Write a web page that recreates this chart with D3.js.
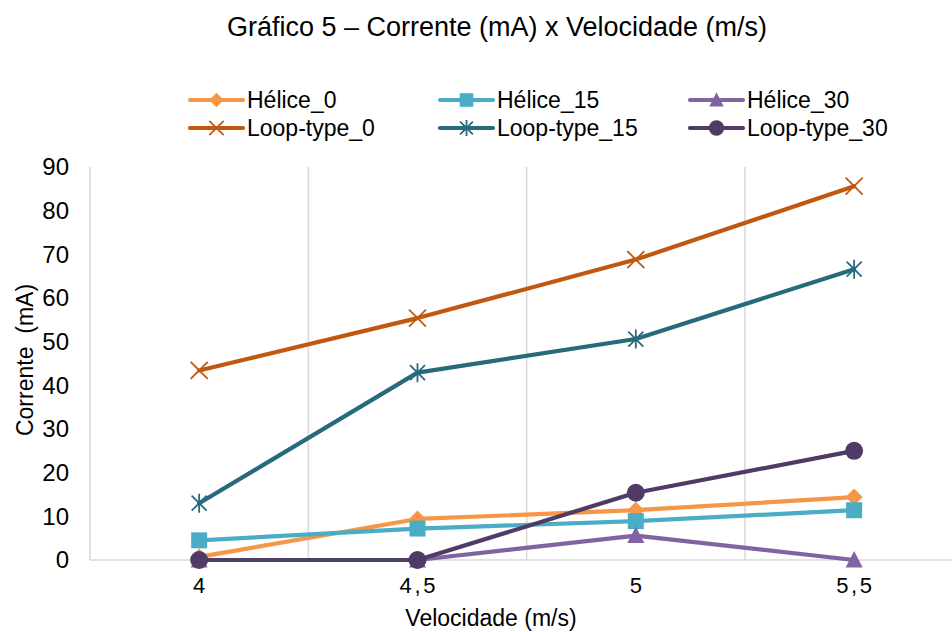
<!DOCTYPE html>
<html><head><meta charset="utf-8">
<script src="https://cdn.jsdelivr.net/npm/d3@7"></script>
<style>body{margin:0;background:#fff}svg{display:block;font-family:"Liberation Sans",Arial,sans-serif}</style>
</head><body><svg id="c" width="952" height="632"></svg>
<script>
const categories = ["4", "4 , 5", "5", "5 , 5"];
const seriesNames = ["Hélice_0", "Hélice_15", "Hélice_30", "Loop-type_0", "Loop-type_15", "Loop-type_30"];
const helice0 = [0.7, 9.4, 11.4, 14.4];
const helice15 = [4.5, 7.2, 8.9, 11.4];
const helice30 = [0, 0, 5.6, 0];
const loop0 = [43.4, 55.4, 68.8, 85.6];
const loop15 = [13.0, 42.9, 50.6, 66.6];
const loop30 = [0, 0, 15.4, 25.0];
const yTicks = [0, 10, 20, 30, 40, 50, 60, 70, 80, 90];
const colors = ["#F79646", "#4BACC6", "#8064A2", "#C0590F", "#276A7C", "#4F3B65"];
const symbols = ["diamond", "square", "triangle", "x", "star", "circle"];
const allValues = [helice0, helice15, helice30, loop0, loop15, loop30];

(function(){
const svg = d3.select("#c");
const pLeft = 90, pRight = 963.3, pTop = 167, pBottom = 560;
const x = d3.scaleBand().domain(categories).range([pLeft, pRight]).paddingInner(0).paddingOuter(0);
const y = d3.scaleLinear().domain([0, 90]).range([pBottom, pTop]);
const cx = d => x(d) + x.bandwidth() / 2;

svg.append("text").attr("x", 497).attr("y", 36).attr("text-anchor", "middle")
  .attr("font-size", 27).attr("fill", "#000").text("Gráfico 5 – Corrente (mA) x Velocidade (m/s)");

const g = svg.append("g");
categories.slice(1).forEach(c => {
  g.append("line").attr("x1", x(c)).attr("x2", x(c)).attr("y1", pTop).attr("y2", pBottom)
    .attr("stroke", "#d9d9d9").attr("stroke-width", 1.5);
});
g.append("line").attr("x1", pLeft).attr("x2", pLeft).attr("y1", pTop).attr("y2", pBottom)
  .attr("stroke", "#d9d9d9").attr("stroke-width", 1.5);
g.append("line").attr("x1", pLeft).attr("x2", 952).attr("y1", pBottom).attr("y2", pBottom)
  .attr("stroke", "#d9d9d9").attr("stroke-width", 1.5);

const yAxis = d3.axisLeft(y).tickValues(yTicks).tickSize(0).tickPadding(21);
const ya = svg.append("g").attr("transform", `translate(${pLeft},0)`).call(yAxis);
ya.select(".domain").remove();
ya.selectAll("text").attr("font-size", 24).attr("fill", "#000").attr("font-family", "Liberation Sans, Arial, sans-serif");

const xAxis = d3.axisBottom(x).tickSize(0).tickPadding(17);
const xa = svg.append("g").attr("transform", `translate(0,${pBottom})`).call(xAxis);
xa.select(".domain").remove();
xa.selectAll("text").attr("font-size", 22).attr("word-spacing", -3.5).attr("fill", "#000")
  .attr("font-family", "Liberation Sans, Arial, sans-serif");

svg.append("text").attr("x", 491).attr("y", 626).attr("text-anchor", "middle")
  .attr("font-size", 23).attr("fill", "#000").text("Velocidade (m/s)");
svg.append("text").attr("transform", "translate(33,360) rotate(-90)").attr("text-anchor", "middle")
  .attr("font-size", 23).attr("fill", "#000").attr("xml:space", "preserve").text("Corrente  (mA)");

function drawMarker(sel, type, color, px, py, s) {
  s = s || 1;
  if (type === "diamond") {
    sel.append("path").attr("d", `M${px},${py-8.5*s}L${px+8.5*s},${py}L${px},${py+8.5*s}L${px-8.5*s},${py}Z`).attr("fill", color);
  } else if (type === "square") {
    sel.append("rect").attr("x", px-8*s).attr("y", py-8*s).attr("width", 16*s).attr("height", 16*s).attr("fill", color);
  } else if (type === "triangle") {
    sel.append("path").attr("d", `M${px},${py-9*s}L${px+8.5*s},${py+7.5*s}L${px-8.5*s},${py+7.5*s}Z`).attr("fill", color);
  } else if (type === "circle") {
    sel.append("circle").attr("cx", px).attr("cy", py).attr("r", 9*s).attr("fill", color);
  } else if (type === "x") {
    sel.append("path").attr("d", `M${px-8.5*s},${py-8.5*s}L${px+8.5*s},${py+8.5*s}M${px-8.5*s},${py+8.5*s}L${px+8.5*s},${py-8.5*s}`)
      .attr("stroke", color).attr("stroke-width", 1.8).attr("fill", "none");
  } else if (type === "star") {
    sel.append("path").attr("d", `M${px-7.5*s},${py-7.5*s}L${px+7.5*s},${py+7.5*s}M${px-7.5*s},${py+7.5*s}L${px+7.5*s},${py-7.5*s}M${px},${py-9.5*s}L${px},${py+9.5*s}`)
      .attr("stroke", color).attr("stroke-width", 1.8).attr("fill", "none");
  }
}

const line = d3.line().x((d, i) => cx(categories[i])).y(d => y(d));
allValues.forEach((vals, si) => {
  const sg = svg.append("g");
  sg.append("path").attr("d", line(vals)).attr("fill", "none").attr("stroke", colors[si])
    .attr("stroke-width", 4.2).attr("stroke-linejoin", "round").attr("stroke-linecap", "round");
  vals.forEach((v, i) => drawMarker(sg, symbols[si], colors[si], cx(categories[i]), y(v)));
});

const legX = [190, 440, 690], legY = [100, 128];
seriesNames.forEach((name, si) => {
  const lx = legX[si % 3], ly = legY[Math.floor(si / 3)];
  const lg = svg.append("g");
  lg.append("line").attr("x1", lx).attr("x2", lx + 53).attr("y1", ly).attr("y2", ly)
    .attr("stroke", colors[si]).attr("stroke-width", 4.2).attr("stroke-linecap", "round");
  drawMarker(lg, symbols[si], colors[si], lx + 26.5, ly, 0.85);
  lg.append("text").attr("x", lx + 57).attr("y", ly + 8).attr("font-size", 23).attr("fill", "#000").text(name);
});
})();
</script></body></html>
